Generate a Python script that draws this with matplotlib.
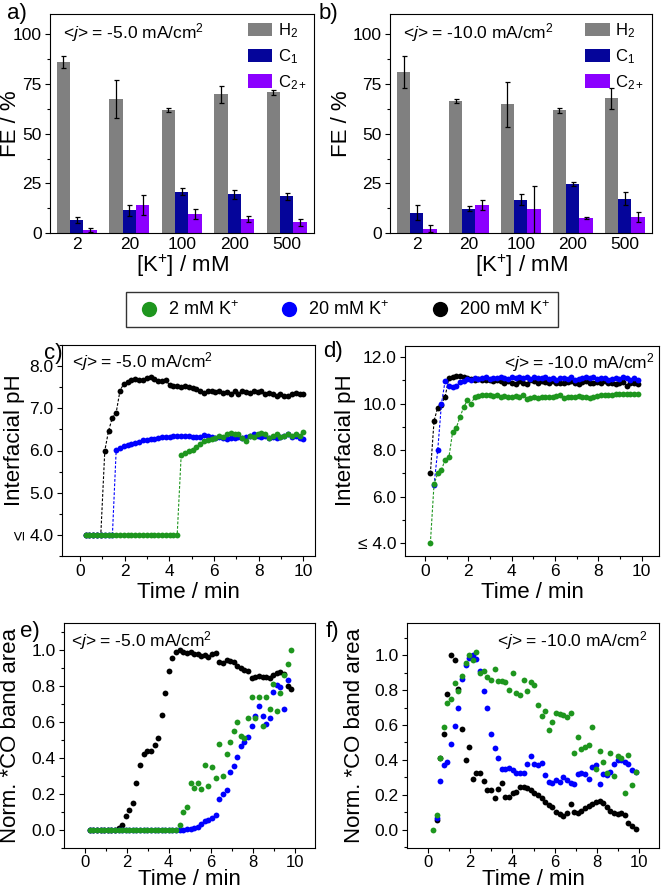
import numpy as np
import matplotlib
matplotlib.use('Agg')
import matplotlib.pyplot as plt
from matplotlib.lines import Line2D
from matplotlib.ticker import MultipleLocator

plt.rcParams['font.family'] = ['Liberation Sans', 'DejaVu Sans']
plt.rcParams['mathtext.fontset'] = 'custom'
plt.rcParams['mathtext.rm'] = 'Liberation Sans'
plt.rcParams['mathtext.it'] = 'Liberation Sans:italic'
plt.rcParams['axes.linewidth'] = 0.8

nan = np.nan
W, H = 662, 894

# ---- FE bar data (a: -5 mA/cm2, b: -10 mA/cm2) ----
conc = ['2', '20', '100', '200', '500']
fe5_h2 = [85.9, 67.5, 61.8, 69.7, 70.7]
fe5_h2_err = [2.8, 9.6, 1.0, 4.4, 1.2]
fe5_c1 = [6.9, 11.6, 20.8, 19.6, 18.6]
fe5_c1_err = [1.5, 2.8, 1.7, 2.3, 1.7]
fe5_c2 = [1.8, 14.1, 9.9, 7.2, 5.5]
fe5_c2_err = [1.0, 4.9, 2.5, 1.7, 1.9]

fe10_h2 = [80.9, 66.3, 64.8, 61.6, 67.8]
fe10_h2_err = [8.0, 1.0, 11.3, 1.3, 5.3]
fe10_c1 = [10.4, 12.4, 16.8, 24.8, 17.4]
fe10_c1_err = [3.8, 1.3, 2.7, 1.0, 3.4]
fe10_c2 = [2.3, 14.1, 12.1, 7.5, 8.0]
fe10_c2_err = [1.7, 2.5, 11.7, 0.5, 2.5]

# ---- time series (shared sampling times, min) ----
t_grid = [0.25, 0.42, 0.59, 0.76, 0.93, 1.11, 1.28, 1.45, 1.62, 1.79,
          1.96, 2.13, 2.30, 2.47, 2.64, 2.82, 2.99, 3.16, 3.33, 3.50,
          3.67, 3.84, 4.01, 4.18, 4.35, 4.53, 4.70, 4.87, 5.04, 5.21,
          5.38, 5.55, 5.72, 5.89, 6.06, 6.24, 6.41, 6.58, 6.75, 6.92,
          7.09, 7.26, 7.43, 7.60, 7.77, 7.95, 8.12, 8.29, 8.46, 8.63,
          8.80, 8.97, 9.14, 9.31, 9.48, 9.66, 9.83, 10.00]

# c) interfacial pH, -5 mA/cm2
ph5_2mM = [4.0, 4.0, 4.0, 4.0, 4.0, 4.0, 4.0, 4.0, 4.0, 4.0,
           4.0, 4.0, 4.0, 4.0, 4.0, 4.0, 4.0, 4.0, 4.0, 4.0,
           4.0, 4.0, 4.0, 4.0, 4.0, 5.90, 5.95, 5.98, 6.02, 6.08,
           6.15, 6.22, 6.25, 6.28, 6.30, 6.35, 6.33, 6.40, 6.42, 6.38,
           6.40, 6.30, 6.22, 6.35, 6.33, 6.38, 6.42, 6.40, 6.30, 6.35,
           6.38, 6.33, 6.35, 6.40, 6.35, 6.38, 6.35, 6.45]
ph5_20mM = [4.0, 4.0, 4.0, 4.0, 4.0, 4.0, 4.0, 4.0, 6.02, 6.07,
            6.10, 6.13, 6.15, 6.18, 6.20, 6.24, 6.26, 6.27, 6.28, 6.30,
            6.33, 6.33, 6.33, 6.34, 6.34, 6.35, 6.35, 6.35, 6.33, 6.33,
            6.32, 6.36, 6.35, 6.33, 6.30, 6.32, 6.30, 6.28, 6.30, 6.30,
            6.32, 6.30, 6.32, 6.35, 6.38, 6.35, 6.32, 6.35, 6.30, 6.33,
            6.30, 6.32, 6.35, 6.38, 6.33, 6.35, 6.30, 6.28]
ph5_200mM = [4.0, 4.0, 4.0, 4.0, 4.0, 6.00, 6.47, 6.78, 6.90, 7.42,
             7.58, 7.62, 7.66, 7.70, 7.68, 7.66, 7.72, 7.73, 7.70, 7.65,
             7.64, 7.66, 7.55, 7.52, 7.53, 7.50, 7.52, 7.50, 7.47, 7.45,
             7.40, 7.37, 7.40, 7.40, 7.38, 7.40, 7.37, 7.38, 7.35, 7.40,
             7.33, 7.40, 7.38, 7.37, 7.40, 7.38, 7.40, 7.35, 7.37, 7.33,
             7.30, 7.33, 7.28, 7.30, 7.35, 7.37, 7.35, 7.35]

# d) interfacial pH, -10 mA/cm2
ph10_2mM = [4.00, 6.55, 7.00, 7.14, 7.60, 7.72, 8.80, 8.97, 9.43, 9.85,
            10.14, 10.00, 10.28, 10.33, 10.36, 10.35, 10.38, 10.33, 10.35, 10.30,
            10.33, 10.30, 10.28, 10.32, 10.30, 10.38, 10.20, 10.25, 10.30, 10.25,
            10.30, 10.27, 10.30, 10.28, 10.33, 10.38, 10.25, 10.30, 10.28, 10.27,
            10.33, 10.28, 10.30, 10.25, 10.30, 10.33, 10.35, 10.35, 10.38, 10.35,
            10.40, 10.42, 10.40, 10.42, 10.40, 10.42, 10.43, nan]
ph10_20mM = [nan, 6.50, 8.00, 9.97, 10.97, 10.75, 10.70, 10.75, 10.93, 10.97,
             11.05, 11.00, 11.08, 11.05, 11.10, 11.12, 11.05, 11.10, 11.08, 11.12,
             11.10, 11.05, 11.12, 11.08, 11.15, 11.10, 11.12, 11.05, 11.15, 11.10,
             11.08, 11.12, 11.05, 11.10, 11.02, 11.08, 11.10, 11.05, 11.12, 11.00,
             11.05, 11.10, 11.15, 11.08, 11.12, 11.05, 11.10, 11.08, 11.00, 11.05,
             11.10, 11.05, 11.12, 11.08, 11.00, 11.10, 11.03, nan]
ph10_200mM = [7.00, 9.26, 9.83, 9.95, 10.30, 11.10, 11.12, 11.20, 11.20, 11.15,
              11.10, 11.05, 11.00, 11.05, 11.00, 11.02, 11.00, 10.98, 11.00, 10.95,
              10.90, 10.95, 10.90, 10.85, 10.95, 10.90, 10.85, 11.00, 10.95, 10.90,
              10.95, 10.92, 10.88, 10.95, 10.90, 10.88, 10.90, 10.93, 10.95, 10.90,
              10.85, 10.92, 10.95, 10.90, 10.88, 10.92, 10.90, 10.95, 10.90, 10.88,
              10.85, 10.90, 10.92, 10.75, 10.88, 10.90, 10.83, nan]

# e) normalised *CO band area, -5 mA/cm2
co5_2mM = [0, 0, 0, 0, 0, 0, 0, 0, 0, 0,
           0, 0, 0, 0, 0, 0, 0, 0, 0, 0,
           0, 0, 0, 0, 0, 0.03, 0.10, 0.13, 0.26, 0.235,
           0.26, 0.23, 0.36, 0.245, 0.35, 0.29, 0.48, 0.30, 0.42, 0.49,
           0.55, 0.60, 0.52, 0.51, 0.62, 0.74, 0.62, 0.74, 0.58, 0.74,
           0.67, 0.81, 0.66, 0.76, 0.86, 0.92, 1.00, nan]
co5_20mM = [0, 0, 0, 0, 0, 0, 0, 0, 0, 0,
            0, 0, 0, 0, 0, 0, 0, 0, 0, 0,
            0, 0, 0, 0, 0, 0.0, 0.003, 0.005, 0.009, 0.015,
            0.018, 0.033, 0.05, 0.059, 0.07, 0.083, 0.172, 0.203, 0.221, 0.323,
            0.354, 0.406, 0.469, 0.489, 0.517, 0.576, 0.631, 0.686, 0.631, 0.59,
            0.624, 0.766, 0.803, 0.793, 0.673, 0.83, nan, nan]
co5_200mM = [0, 0, 0, 0, 0, 0, 0, 0, 0.01, 0.03,
             0.08, 0.11, 0.15, 0.26, 0.36, 0.42, 0.44, 0.44, 0.475, 0.51,
             0.64, 0.76, 0.885, 0.955, 0.99, 1.0, 0.99, 0.98, 0.985, 0.975,
             0.975, 0.965, 0.97, 0.96, 0.975, 0.98, 0.93, 0.925, 0.945, 0.94,
             0.93, 0.91, 0.90, 0.89, 0.88, 0.845, 0.85, 0.855, 0.85, 0.85,
             0.845, 0.86, 0.87, 0.875, 0.865, 0.80, 0.78, nan]

# f) normalised *CO band area, -10 mA/cm2
co10_2mM = [0.0, 0.084, 0.41, 0.587, 0.724, 0.747, 0.842, 0.794, 0.882, 0.952,
            1.0, 0.971, 1.015, 0.895, 0.91, 0.872, 0.857, 0.918, 0.853, 0.853,
            0.848, 0.80, 0.90, 0.785, 0.771, 0.857, 0.796, 0.848, 0.829, 0.714,
            0.651, 0.68, 0.571, 0.62, 0.667, 0.663, 0.657, 0.644, 0.67, 0.438,
            0.533, 0.463, 0.472, 0.488, 0.587, 0.347, 0.453, 0.39, 0.328, 0.438,
            0.31, 0.423, 0.41, 0.213, 0.427, 0.257, 0.333, nan]
co10_20mM = [nan, 0.07, 0.282, 0.371, 0.389, 0.491, 0.594, 0.70, 0.861, 0.943,
             0.985, 1.0, 0.975, 0.909, 0.794, 0.70, 0.549, 0.47, 0.413, 0.347,
             0.347, 0.352, 0.343, 0.328, 0.328, 0.328, 0.375, 0.423, 0.375, 0.371,
             0.385, 0.314, 0.276, 0.267, 0.286, 0.276, 0.305, 0.286, 0.27, 0.263,
             0.32, 0.328, 0.32, 0.29, 0.362, 0.371, 0.263, 0.32, 0.314, 0.333,
             0.377, 0.40, 0.40, 0.39, 0.377, 0.343, 0.333, nan]
co10_200mM = [nan, 0.057, 0.41, 0.549, 0.777, 1.0, 0.971, 0.804, 0.575, 0.40,
              0.476, 0.29, 0.328, 0.328, 0.282, 0.229, 0.229, 0.181, 0.232, 0.267,
              0.19, 0.19, 0.213, 0.219, 0.248, 0.244, 0.238, 0.229, 0.21, 0.20,
              0.181, 0.162, 0.143, 0.13, 0.105, 0.091, 0.08, 0.095, 0.149, 0.105,
              0.099, 0.11, 0.124, 0.137, 0.149, 0.162, 0.168, 0.152, 0.133, 0.11,
              0.095, 0.091, 0.099, 0.084, 0.038, 0.023, 0.006, nan]

c_h2, c_c1, c_c2 = '#808080', '#05059a', '#8b00ff'
c_2mM, c_20mM, c_200mM = '#1e961e', '#0000ff', '#000000'


def axes_px(fig, left, top, right, bottom):
    return fig.add_axes([left / W, 1 - bottom / H, (right - left) / W, (bottom - top) / H])


def style(ax):
    ax.tick_params(which='major', direction='out', length=3.5, width=0.8, pad=2.5, labelsize=12.5)
    ax.tick_params(which='minor', direction='out', length=2, width=0.8)
    ax.tick_params(top=False, right=False, which='both')


def bar_panel(ax, h2, h2e, c1, c1e, c2, c2e, note):
    x = np.arange(len(conc))
    w = 0.255
    ekw = dict(ecolor='k', elinewidth=0.9, capsize=1.8, capthick=0.9)
    ax.bar(x - w, h2, w, yerr=h2e, color=c_h2, label='H$_2$', error_kw=ekw)
    ax.bar(x, c1, w, yerr=c1e, color=c_c1, label='C$_1$', error_kw=ekw)
    ax.bar(x + w, c2, w, yerr=c2e, color=c_c2, label='C$_{2+}$', error_kw=ekw)
    ax.set_xlim(-0.51, 4.52)
    ax.set_ylim(0, 110)
    ax.set_xticks(x)
    ax.set_xticklabels(conc)
    ax.set_yticks([0, 25, 50, 75, 100])
    ax.yaxis.set_minor_locator(MultipleLocator(12.5))
    style(ax)
    ax.tick_params(axis='x', which='both', length=0, pad=3)
    ax.legend(loc='upper right', frameon=False, fontsize=12, handlelength=1.45,
              handleheight=0.85, labelspacing=0.42, handletextpad=0.35,
              borderaxespad=0.25, borderpad=0.2)
    ax.text(0.05, 0.915, note, transform=ax.transAxes, fontsize=12.5, va='center')
    ax.set_ylabel('FE / %', fontsize=16, va='center')
    ax.set_xlabel('[K$^{+}$] / mM', fontsize=16, va='center')
    ax.xaxis.set_label_coords(0.5, -0.148)


def time_panel(ax, series, connect):
    cols = [c_200mM, c_20mM, c_2mM]
    for vals, col in zip(series, cols):
        ax.plot(t_grid, vals, ls=(0, (2.5, 1.5)) if connect else 'none', lw=0.8,
                color=col, marker='o', ms=4.2, mec='none')
    ax.set_xticks([0, 2, 4, 6, 8, 10])
    ax.xaxis.set_minor_locator(MultipleLocator(1))
    style(ax)


fig = plt.figure(figsize=(W / 100, H / 100), dpi=100)

ax_a = axes_px(fig, 50, 14, 314, 233.3)
bar_panel(ax_a, fe5_h2, fe5_h2_err, fe5_c1, fe5_c1_err, fe5_c2, fe5_c2_err,
          r'<$j$> = -5.0 mA/cm$^{2}$')
ax_a.yaxis.set_label_coords(-0.148, 0.5)

ax_b = axes_px(fig, 390.3, 14, 651.7, 233.3)
bar_panel(ax_b, fe10_h2, fe10_h2_err, fe10_c1, fe10_c1_err, fe10_c2, fe10_c2_err,
          r'<$j$> = -10.0 mA/cm$^{2}$')
ax_b.yaxis.set_label_coords(-0.187, 0.5)

# c
ax_c = axes_px(fig, 61.7, 345, 315, 556)
time_panel(ax_c, [ph5_200mM, ph5_20mM, ph5_2mM], True)
ax_c.set_xlim(-0.82, 10.52)
ax_c.set_ylim(3.5, 8.5)
ax_c.set_yticks([4, 5, 6, 7, 8])
ax_c.set_yticklabels(['4.0', '5.0', '6.0', '7.0', '8.0'])
ax_c.yaxis.set_minor_locator(MultipleLocator(0.5))
ax_c.set_ylabel('Interfacial pH', fontsize=16, va='center')
ax_c.yaxis.set_label_coords(-0.188, 0.55)
ax_c.set_xlabel('Time / min', fontsize=16, va='center')
ax_c.xaxis.set_label_coords(0.5, -0.175)
ax_c.text(0.04, 0.92, r'<$j$> = -5.0 mA/cm$^{2}$', transform=ax_c.transAxes, fontsize=12.5, va='center')
fig.text(20 / W, 1 - 535 / H, '≤', rotation=90, fontsize=12.5, ha='center', va='center')

# d
ax_d = axes_px(fig, 405, 346, 659, 556)
time_panel(ax_d, [ph10_200mM, ph10_20mM, ph10_2mM], True)
ax_d.set_xlim(-0.92, 10.8)
ax_d.set_ylim(3.46, 12.47)
ax_d.set_yticks([4, 6, 8, 10, 12])
ax_d.set_yticklabels(['≤ 4.0', '6.0', '8.0', '10.0', '12.0'])
ax_d.yaxis.set_minor_locator(MultipleLocator(1))
ax_d.set_ylabel('Interfacial pH', fontsize=16, va='center')
ax_d.yaxis.set_label_coords(-0.236, 0.55)
ax_d.set_xlabel('Time / min', fontsize=16, va='center')
ax_d.xaxis.set_label_coords(0.5, -0.175)
ax_d.text(0.985, 0.92, r'<$j$> = -10.0 mA/cm$^{2}$', transform=ax_d.transAxes, fontsize=12.5,
          va='center', ha='right')

# e
ax_e = axes_px(fig, 64.3, 622.7, 315, 848.3)
time_panel(ax_e, [co5_200mM, co5_20mM, co5_2mM], False)
ax_e.set_xlim(-0.96, 10.95)
ax_e.set_ylim(-0.1, 1.15)
ax_e.set_yticks([0, 0.2, 0.4, 0.6, 0.8, 1.0])
ax_e.set_yticklabels(['0.0', '0.2', '0.4', '0.6', '0.8', '1.0'])
ax_e.yaxis.set_minor_locator(MultipleLocator(0.1))
ax_e.set_ylabel('Norm. *CO band area', fontsize=16, va='center')
ax_e.yaxis.set_label_coords(-0.213, 0.5)
ax_e.set_xlabel('Time / min', fontsize=16, va='center')
ax_e.xaxis.set_label_coords(0.5, -0.138)
ax_e.text(0.025, 0.92, r'<$j$> = -5.0 mA/cm$^{2}$', transform=ax_e.transAxes, fontsize=12.5, va='center')

# f
ax_f = axes_px(fig, 407, 622.7, 659.3, 848.3)
time_panel(ax_f, [co10_200mM, co10_20mM, co10_2mM], False)
ax_f.set_xlim(-0.98, 10.94)
ax_f.set_ylim(-0.105, 1.185)
ax_f.set_yticks([0, 0.2, 0.4, 0.6, 0.8, 1.0])
ax_f.set_yticklabels(['0.0', '0.2', '0.4', '0.6', '0.8', '1.0'])
ax_f.yaxis.set_minor_locator(MultipleLocator(0.1))
ax_f.set_ylabel('Norm. *CO band area', fontsize=16, va='center')
ax_f.yaxis.set_label_coords(-0.21, 0.5)
ax_f.set_xlabel('Time / min', fontsize=16, va='center')
ax_f.xaxis.set_label_coords(0.5, -0.138)
ax_f.text(0.955, 0.92, r'<$j$> = -10.0 mA/cm$^{2}$', transform=ax_f.transAxes, fontsize=12.5,
          va='center', ha='right')

for ax in (ax_e, ax_f):
    ax.tick_params(axis='x', which='major', pad=1.5, labelsize=12)

# shared legend
handles = [Line2D([], [], ls='none', marker='o', ms=11, color=c, mec='none')
           for c in (c_2mM, c_20mM, c_200mM)]
labels = ['2 mM K$^{+}$', '20 mM K$^{+}$', '200 mM K$^{+}$']
leg = fig.legend(handles, labels, loc='center', bbox_to_anchor=(342 / W, 1 - 309.5 / H), ncol=3,
                 frameon=True, fancybox=False, edgecolor='k', fontsize=13,
                 handletextpad=0.25, columnspacing=2.0, borderpad=0.45, handlelength=1.6)
leg.get_frame().set_linewidth(1.0)

# panel letters
for lab, px, py in [('a)', 17, 13), ('b)', 328, 13), ('c)', 53, 353),
                    ('d)', 333, 352), ('e)', 30, 631), ('f)', 332, 631)]:
    fig.text(px / W, 1 - py / H, lab, fontsize=16, ha='center', va='center')

plt.savefig('out.png', dpi=100)
